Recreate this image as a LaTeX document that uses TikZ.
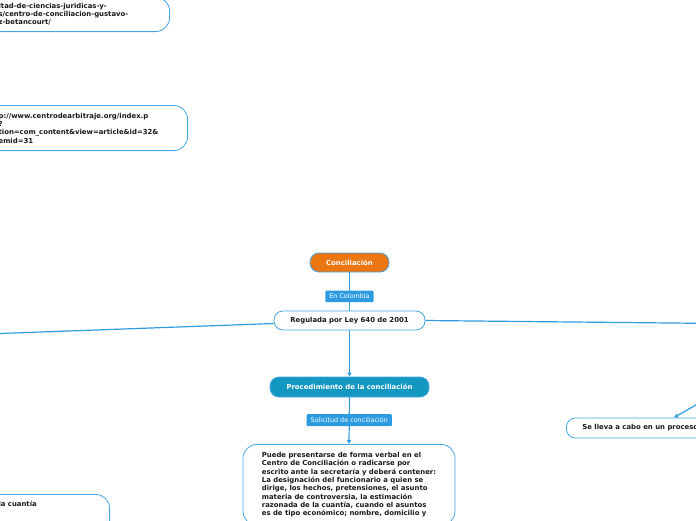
\documentclass[tikz,border=0pt]{standalone}
\usepackage{fontspec}
\setmainfont{DejaVu Sans}
\usetikzlibrary{arrows.meta,calc}
\definecolor{lineblue}{HTML}{2F9BE0}
\definecolor{borderblue}{HTML}{45A6E5}
\definecolor{labelblue}{HTML}{2C9BE0}
\definecolor{concorange}{HTML}{EC7611}
\definecolor{procteal}{HTML}{1497C1}
\definecolor{txt}{HTML}{1A1A1A}
\tikzset{
  basefont/.style={font=\fontsize{6.9}{8.3}\selectfont\bfseries, text=txt},
  topic/.style={basefont, draw=borderblue, line width=0.8pt, fill=white,
    rounded corners=9pt, minimum height=19pt, inner xsep=8pt, inner ysep=0pt},
  filledtopic/.style={topic, text=white},
  bigbox/.style={basefont, draw=borderblue, line width=0.8pt, fill=white,
    rounded corners=14pt, align=left},
  edgebox/.style={basefont, draw=borderblue, line width=0.8pt, fill=white,
    rounded corners=14pt, align=left, inner xsep=14pt},
  lbl/.style={font=\fontsize{6.4}{7}\selectfont, text=white, fill=labelblue,
    rounded corners=1pt, inner xsep=4pt, inner ysep=0pt, minimum height=11.5pt},
  conn/.style={draw=lineblue, line width=1.2pt},
  tip/.style={-{Latex[length=4pt,width=5pt]}}
}
\begin{document}
\begin{tikzpicture}[x=1pt,y=-1pt]
\useasboundingbox (0,0) rectangle (696,520);

% off-canvas nodes
\node[edgebox, text width=157pt, inner ysep=6pt, anchor=south east] (url1) at (170,32)
  {ltad-de-ciencias-juridicas-y-\\s/centro-de-conciliacion-gustavo-\\z-betancourt/};
\node[edgebox, text width=175pt, inner ysep=7.5pt, anchor=north east] (url2) at (188,105)
  {p://www.centrodearbitraje.org/index.p\\?\\tion=com\_content\&view=article\&id=32\&\\emid=31};

% central topics
\node[filledtopic, fill=concorange, minimum width=79pt] (conc) at (349.5,262.5) {Conciliación};
\node[topic, minimum width=151pt] (reg) at (349.5,320.5) {Regulada por Ley 640 de 2001};
\node[filledtopic, fill=procteal, minimum width=159pt, minimum height=20pt] (proc) at (349.5,387) {Procedimiento de la conciliación};
\node[bigbox, anchor=north, minimum width=212pt, inner ysep=8pt] (big) at (349,444)
  {Puede presentarse de forma verbal en el\\
   Centro de Conciliación o radicarse por\\
   escrito ante la secretaría y deberá contener:\\
   La designación del funcionario a quien se\\
   dirige, los hechos, pretensiones, el asunto\\
   materia de controversia, la estimación\\
   razonada de la cuantía, cuando el asuntos\\
   es de tipo económico; nombre, domicilio y};

\node[edgebox, text width=97pt, inner ysep=6.3pt, text depth=30pt, anchor=north east] (cuant) at (110,494) {la cuantía};
\node[topic, anchor=west, minimum height=20pt, inner xsep=16pt] (proceso) at (566,428) {Se lleva a cabo en un proceso};

% free ends
\coordinate (offL) at (-30,334.6);
\coordinate (offR) at (720,323.5);
\coordinate (offBR) at (720,391);

% connectors
\draw[conn] (conc) -- node[lbl, pos=0.63] {En Colombia} (reg);
\draw[conn] ($(reg.west)+(0,3)$) -- (offL);
\draw[conn] (reg.east) -- (offR);
\draw[conn, tip] (reg.south) -- (proc.north);
\draw[conn, tip] (proc.south) -- node[lbl, pos=0.49, minimum height=12pt] {Solicitud de conciliación} (big.north);
\draw[conn, tip] (offBR) -- ($(proceso.north west)+(108,0)$);
\end{tikzpicture}
\end{document}
